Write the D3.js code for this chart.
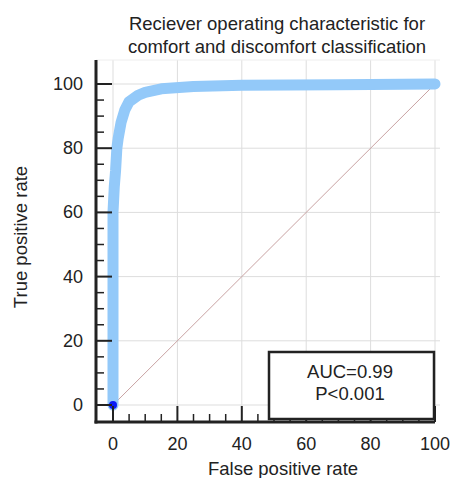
<!DOCTYPE html>
<html>
<head>
<meta charset="utf-8">
<script src="https://cdn.jsdelivr.net/npm/d3@7"></script>
<style>
  body { margin: 0; background: #fff; }
  text { font-family: "Liberation Sans", Arial, sans-serif; fill: #222; }
</style>
</head>
<body>
<div id="viz"></div>
<script>
// ROC curve points (false positive rate %, true positive rate %)
const fpr = [0, 0, 0.4, 0.8, 1.2, 1.6, 2.5, 3.7, 5, 7.8, 10, 15, 25, 40, 70, 100];
const tpr = [0, 60, 68, 73, 80, 83, 88, 92, 94.5, 96.5, 97.4, 98.5, 99.2, 99.6, 99.8, 100];
const majorTicks = [0, 20, 40, 60, 80, 100];
const titleLines = ["Reciever operating characteristic for", "comfort and discomfort classification"];
const statLines = ["AUC=0.99", "P<0.001"];

const W = 450, H = 478;
const svg = d3.select("#viz").append("svg")
  .attr("width", W)
  .attr("height", H);

const x = d3.scaleLinear().domain([0, 100]).range([113, 435]);
const y = d3.scaleLinear().domain([0, 100]).range([405, 84]);

const pLeft = 96, pRight = 440, pTop = 60, pBottom = 422;
const minor = d3.range(0, 101, 5).filter(d => d % 20 !== 0);

// grid
svg.append("g").selectAll("line")
  .data(majorTicks)
  .enter().append("line")
  .attr("x1", d => x(d)).attr("x2", d => x(d))
  .attr("y1", pTop).attr("y2", pBottom)
  .attr("stroke", "#ddd").attr("stroke-width", 1);
svg.append("g").selectAll("line")
  .data(majorTicks)
  .enter().append("line")
  .attr("y1", d => y(d)).attr("y2", d => y(d))
  .attr("x1", pLeft).attr("x2", pRight)
  .attr("stroke", "#ddd").attr("stroke-width", 1);
svg.append("line")
  .attr("x1", pLeft).attr("x2", pRight).attr("y1", pTop).attr("y2", pTop)
  .attr("stroke", "#eee");

// chance diagonal
svg.append("line")
  .attr("x1", x(0)).attr("y1", y(0))
  .attr("x2", x(100)).attr("y2", y(100))
  .attr("stroke", "#c9a3a3").attr("stroke-width", 1);

// ROC curve
const pts = fpr.map((d, i) => [d, tpr[i]]);
svg.append("path")
  .datum(pts)
  .attr("fill", "none")
  .attr("stroke", "#93c9f9")
  .attr("stroke-width", 11)
  .attr("stroke-linecap", "round")
  .attr("stroke-linejoin", "round")
  .attr("d", d3.line().x(d => x(d[0])).y(d => y(d[1])));

svg.append("circle")
  .attr("cx", x(0)).attr("cy", y(0)).attr("r", 4)
  .attr("fill", "#0a1cf5");

// axes frame with inward ticks
const ax = svg.append("g").attr("stroke", "#222");
ax.append("line").attr("x1", pLeft).attr("x2", pLeft).attr("y1", pTop).attr("y2", pBottom + 1.5).attr("stroke-width", 3);
ax.append("line").attr("x1", pLeft - 1.5).attr("x2", x(100)).attr("y1", pBottom).attr("y2", pBottom).attr("stroke-width", 3);

ax.selectAll(".xmaj").data(majorTicks).enter().append("line")
  .attr("x1", d => x(d)).attr("x2", d => x(d))
  .attr("y1", pBottom).attr("y2", pBottom - 16).attr("stroke-width", 2);
ax.selectAll(".xmin").data(minor).enter().append("line")
  .attr("x1", d => x(d)).attr("x2", d => x(d))
  .attr("y1", pBottom).attr("y2", pBottom - 8).attr("stroke-width", 1.5);
ax.selectAll(".ymaj").data(majorTicks).enter().append("line")
  .attr("y1", d => y(d)).attr("y2", d => y(d))
  .attr("x1", pLeft).attr("x2", pLeft + 16).attr("stroke-width", 2);
ax.selectAll(".ymin").data(minor).enter().append("line")
  .attr("y1", d => y(d)).attr("y2", d => y(d))
  .attr("x1", pLeft).attr("x2", pLeft + 8).attr("stroke-width", 1.5);

// tick labels
svg.append("g").selectAll("text")
  .data(majorTicks).enter().append("text")
  .attr("x", d => x(d)).attr("y", 450)
  .attr("text-anchor", "middle")
  .attr("font-size", 18)
  .text(d => d);
svg.append("g").selectAll("text")
  .data(majorTicks).enter().append("text")
  .attr("x", 83).attr("y", d => y(d) + 6)
  .attr("text-anchor", "end")
  .attr("font-size", 18)
  .text(d => d);

// axis titles
svg.append("text")
  .attr("x", 283).attr("y", 475)
  .attr("text-anchor", "middle").attr("font-size", 18.5)
  .text("False positive rate");
svg.append("text")
  .attr("transform", "translate(27,237) rotate(-90)")
  .attr("text-anchor", "middle").attr("font-size", 18.5)
  .text("True positive rate");

// title
svg.append("g").selectAll("text")
  .data(titleLines).enter().append("text")
  .attr("x", 277).attr("y", (d, i) => 30 + i * 23)
  .attr("text-anchor", "middle").attr("font-size", 18.5)
  .text(d => d);

// stats box
svg.append("rect")
  .attr("x", 269).attr("y", 352).attr("width", 165).attr("height", 67)
  .attr("fill", "#fff").attr("stroke", "#222").attr("stroke-width", 2.5);
svg.append("g").selectAll("text")
  .data(statLines).enter().append("text")
  .attr("x", 350).attr("y", (d, i) => 378 + i * 22)
  .attr("text-anchor", "middle").attr("font-size", 18.5)
  .text(d => d);
</script>
</body>
</html>
